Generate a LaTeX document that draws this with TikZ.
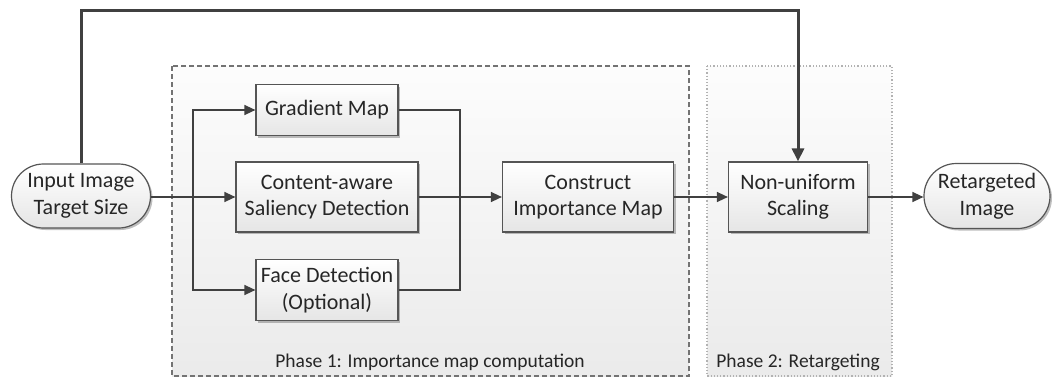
\documentclass[tikz,border=0pt]{standalone}
\usepackage{fontspec}
\setmainfont{Carlito}
\usetikzlibrary{arrows.meta,shapes.misc,shadows}
\definecolor{linegray}{HTML}{404040}
\definecolor{boxline}{HTML}{555555}
\tikzset{
  x=1pt, y=-1pt,
  procbox/.style={draw=boxline, line width=1.2pt, top color=white, bottom color=black!10,
    drop shadow={shadow xshift=2pt, shadow yshift=-2pt, opacity=0.25, fill=black},
    align=center, inner sep=0pt, font=\fontsize{22}{26.5}\selectfont, text=black!85},
  termbox/.style={procbox, rounded rectangle},
  flow/.style={draw=linegray, line width=1.4pt},
  arr/.style={flow, -{Triangle[length=11pt, width=10pt]}},
  bigarr/.style={draw=linegray, line width=3pt, -{Triangle[length=13pt, width=12pt]}},
  phaselabel/.style={font=\fontsize{19.5}{23}\selectfont, text=black!85},
}
\begin{document}
\begin{tikzpicture}
\useasboundingbox (0,0) rectangle (1058,378);

% phase frames
\draw[draw=black!55, line width=1.5pt, dash pattern=on 5pt off 3pt,
      top color=black!1, bottom color=black!8]
  (172,66) rectangle (689,376);
\draw[draw=black!30, line width=1.2pt, dotted,
      top color=black!1, bottom color=black!8]
  (707,66) rectangle (892,376);
\node[phaselabel] (ph1) at (430,362) {Phase 1: Importance map computation};
\node[phaselabel] (ph2) at (798,362) {Phase 2: Retargeting};

% process nodes
\node[termbox, minimum width=139pt, minimum height=64pt] (inp) at (81,196) {Input Image\\Target Size};
\node[procbox, minimum width=142pt, minimum height=51pt] (gm) at (327,110) {Gradient Map};
\node[procbox, minimum width=182pt, minimum height=70pt] (csd) at (327,197) {Content-aware\\Saliency Detection};
\node[procbox, minimum width=142pt, minimum height=61pt] (fd) at (327,290) {Face Detection\\(Optional)};
\node[procbox, minimum width=171pt, minimum height=70pt] (cim) at (588,197) {Construct\\Importance Map};
\node[procbox, minimum width=139pt, minimum height=70pt] (nus) at (798,197) {Non-uniform\\Scaling};
\node[termbox, minimum width=126pt, minimum height=65pt] (out) at (987,196) {Retargeted\\Image};

% split and merge points
\coordinate (split) at (193,197);
\coordinate (merge) at (460,197);
\coordinate (topR) at (798,10);

% connectors
\draw[arr] (inp.east |- csd.west) -- (csd.west);
\draw[arr] (split) |- (gm.west);
\draw[arr] (split) |- (fd.west);
\draw[flow] (gm.east) -| (merge);
\draw[flow] (fd.east) -| (merge);
\draw[arr] (csd.east) -- (cim.west);
\draw[arr] (cim.east) -- (nus.west);
\draw[arr] (nus.east) -- (out.west |- nus.east);
\draw[bigarr] (inp.north) |- (topR) -- (nus.north);
\end{tikzpicture}
\end{document}
